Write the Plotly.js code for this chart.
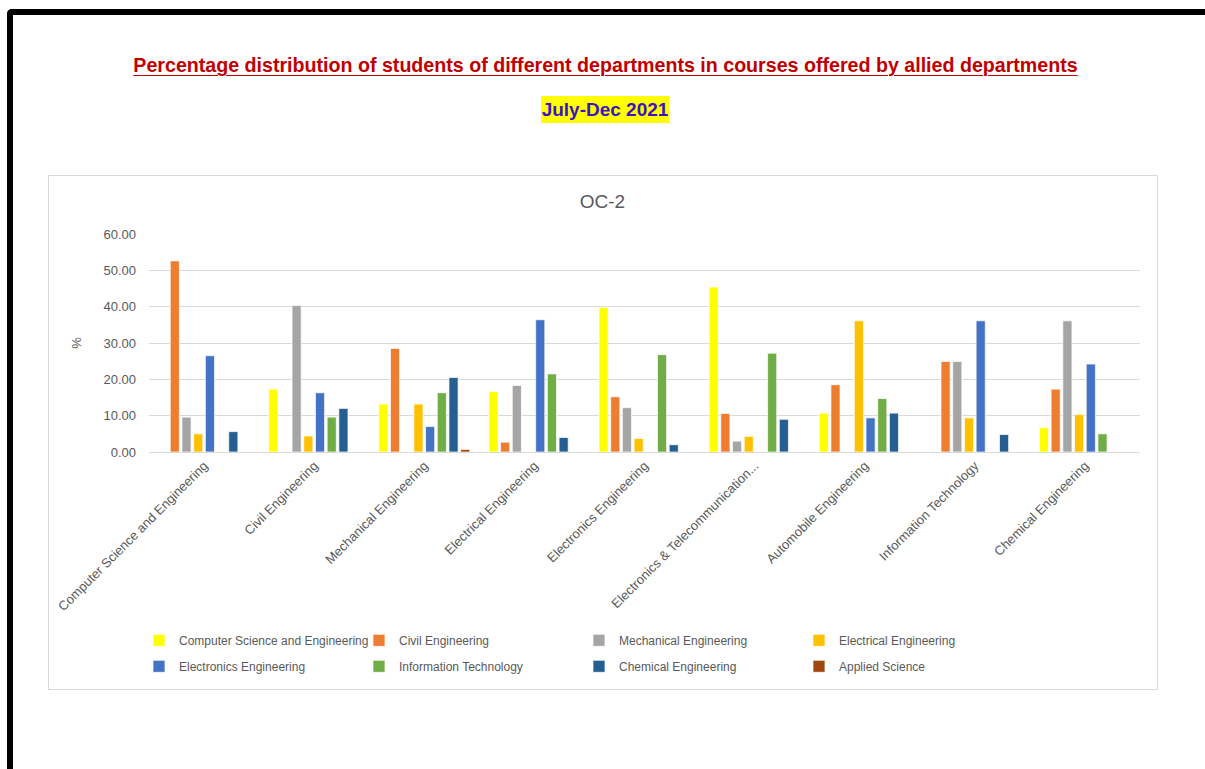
<!DOCTYPE html>
<html>
<head>
<meta charset="utf-8">
<script src="https://cdn.plot.ly/plotly-3.0.1.min.js"></script>
<style>
  html, body { margin:0; padding:0; background:#fff; width:1205px; height:769px; overflow:hidden; }
  #frame { position:absolute; left:7px; top:9px; width:1220px; height:800px; border-left:6px solid #000; border-top:6px solid #000; border-top-left-radius:5px; box-sizing:border-box; }
  #title { position:absolute; left:0; width:1211px; top:54px; text-align:center; font-family:"Liberation Sans Narrow","Liberation Sans",Arial,sans-serif; font-weight:bold; color:#C00000; text-decoration:underline; text-decoration-thickness:1px; text-underline-offset:3px; white-space:nowrap; }
  #sub { position:absolute; left:541px; top:96px; width:128px; height:27px; background:#FFFF00; text-align:center; line-height:27px; font-family:"Liberation Sans Narrow","Liberation Sans",Arial,sans-serif; font-weight:bold; font-size:19px; color:#3C14C0; white-space:nowrap; }
  #chart { position:absolute; left:48px; top:175px; width:1109px; height:514px; }
  #box { position:absolute; left:48px; top:175px; width:1110px; height:515px; border:1px solid #d9d9d9; box-sizing:border-box; pointer-events:none; }
</style>
</head>
<body>
<div id="frame"></div>
<div id="title">Percentage distribution of students of different departments in courses offered by allied departments</div>
<div id="sub">July-Dec 2021</div>
<div id="chart"></div>
<div id="box"></div>
<script>
// Categories (courses offered by department)
const categories = ["Computer Science and Engineering","Civil Engineering","Mechanical Engineering","Electrical Engineering","Electronics Engineering","Electronics & Telecommunication Engineering","Automobile Engineering","Information Technology","Chemical Engineering"];
const tickLabels = ["Computer Science and Engineering","Civil Engineering","Mechanical Engineering","Electrical Engineering","Electronics Engineering","Electronics & Telecommunication...","Automobile Engineering","Information Technology","Chemical Engineering"];

// Series (student departments), values in %
const seriesNames = ["Computer Science and Engineering","Civil Engineering","Mechanical Engineering","Electrical Engineering","Electronics Engineering","Information Technology","Chemical Engineering","Applied Science"];
const cseValues      = [0,    17.3, 13.2, 16.6, 39.8, 45.4, 10.7, 0,    6.7];
const civilValues    = [52.6, 0,    28.5, 2.7,  15.2, 10.6, 18.5, 24.9, 17.3];
const mechValues     = [9.6,  40.3, 0,    18.3, 12.2, 3.0,  0,    24.9, 36.1];
const electValues    = [5.0,  4.4,  13.2, 0,    3.7,  4.3,  36.1, 9.4,  10.3];
const electronValues = [26.5, 16.3, 7.0,  36.4, 0,    0,    9.4,  36.1, 24.2];
const itValues       = [0,    9.6,  16.3, 21.5, 26.8, 27.2, 14.7, 0,    5.0];
const chemValues     = [5.6,  12.0, 20.5, 4.0,  2.0,  9.0,  10.7, 4.8,  0];
const appliedValues  = [0,    0,    0.7,  0,    0,    0,    0,    0,    0];
const seriesColors = ["#FFFF00","#ED7D31","#A5A5A5","#FFC000","#4472C4","#70AD47","#255E91","#9E480E"];
const allValues = [cseValues, civilValues, mechValues, electValues, electronValues, itValues, chemValues, appliedValues];

// fit title width
(function(){
  const t = document.getElementById('title');
  let fs = 20; t.style.fontSize = fs + 'px';
  const range = document.createRange(); range.selectNodeContents(t);
  const w = range.getBoundingClientRect().width;
  fs = fs * 945 / w; t.style.fontSize = fs.toFixed(2) + 'px';
})();

const traces = seriesNames.map((name, i) => ({
  type: 'bar',
  name: name,
  x: categories,
  y: allValues[i],
  legend: i < 4 ? 'legend' : 'legend2',
  marker: { color: seriesColors[i], line: { color: 'rgba(255,255,255,0.7)', width: 1 } },
  hoverinfo: 'x+y+name'
}));

const font = "Liberation Sans, Arial, sans-serif";
const legendBase = {
  orientation: 'h', x: -0.0101, xanchor: 'left', yanchor: 'top',
  entrywidth: 175, entrywidthmode: 'pixels', traceorder: 'normal',
  bgcolor: 'rgba(0,0,0,0)',
  font: { family: font, size: 12, color: '#595959' }
};
const layout = {
  width: 1109, height: 514,
  margin: { l: 101, r: 17, t: 59, b: 237, autoexpand: false },
  paper_bgcolor: 'rgba(0,0,0,0)', plot_bgcolor: 'rgba(0,0,0,0)',
  font: { family: font, size: 13, color: '#595959' },
  title: { text: 'OC-2', x: 0.5, xanchor: 'center', y: 1 - 26/514, yanchor: 'middle', yref: 'container', font: { family: font, size: 19, color: '#595959' } },
  barmode: 'group', bargap: 0.15, bargroupgap: 0.22,
  xaxis: {
    type: 'category', tickvals: categories, ticktext: tickLabels, tickangle: -45,
    showline: true, linecolor: '#d9d9d9', linewidth: 1, showgrid: false, ticks: '',
    tickfont: { family: font, size: 13, color: '#595959' }
  },
  yaxis: {
    range: [0, 60], dtick: 10, tickformat: '.2f', gridcolor: '#d9d9d9', gridwidth: 1,
    zeroline: false, showline: false, ticks: '', ticklabelstandoff: 12,
    tickfont: { family: font, size: 13, color: '#595959' },
    title: { text: '%', standoff: 18, font: { family: font, size: 13, color: '#595959' } }
  },
  legend: Object.assign({}, legendBase, { y: -0.7975 }),
  legend2: Object.assign({}, legendBase, { y: -0.9165 }),
  showlegend: true
};

Plotly.newPlot('chart', traces, layout, { displayModeBar: false, staticPlot: true });
</script>
</body>
</html>
